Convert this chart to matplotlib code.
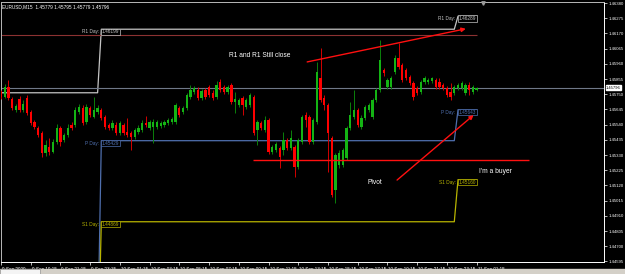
import numpy as np
import matplotlib
matplotlib.use("Agg")
import matplotlib.pyplot as plt
import matplotlib.transforms as mtransforms
from matplotlib.patches import Rectangle

plt.rcParams['font.family'] = ['Liberation Sans', 'DejaVu Sans']

# === EURUSD M15 candles, prices in points (1 point = 0.00001) ===
opens = [
    145765, 145731, 145800, 145717, 145641, 145717, 145641, 145724, 145627, 145558,
    145516, 145482, 145344, 145385, 145351, 145420, 145516, 145434, 145468, 145537,
    145537, 145627, 145655, 145558, 145655, 145593, 145627, 145641, 145593, 145537,
    145516, 145537, 145482, 145537, 145489, 145482, 145454, 145489, 145503, 145551,
    145516, 145523, 145523, 145530, 145537, 145551, 145558, 145558, 145655, 145627,
    145655, 145731, 145765, 145779, 145724, 145779, 145800, 145758, 145731, 145834,
    145800, 145765, 145814, 145696, 145675, 145724, 145662, 145675, 145731, 145503,
    145551, 145503, 145572, 145351, 145365, 145378, 145365, 145434, 145378, 145385,
    145247, 145420, 145606, 145593, 145420, 145558, 145862, 145724, 145675, 145447,
    145088, 145261, 145261, 145309, 145516, 145593, 145641, 145523, 145586, 145641,
    145593, 145710, 145779, 145917, 145800, 145800, 145904, 146000, 145952, 145917,
    145869, 145827, 145793, 145765, 145834, 145834, 145841, 145848, 145834, 145814,
    145793, 145765, 145758, 145793, 145793, 145758, 145814, 145765, 145779,
]
closes = [
    145731, 145800, 145724, 145655, 145669, 145641, 145682, 145620, 145551, 145523,
    145468, 145344, 145399, 145351, 145420, 145516, 145420, 145468, 145516, 145516,
    145641, 145662, 145551, 145662, 145606, 145641, 145655, 145586, 145523, 145516,
    145551, 145482, 145551, 145482, 145468, 145454, 145503, 145516, 145551, 145537,
    145558, 145558, 145558, 145551, 145558, 145572, 145579, 145675, 145606, 145655,
    145745, 145779, 145793, 145724, 145772, 145731, 145745, 145724, 145814, 145779,
    145765, 145800, 145696, 145717, 145710, 145675, 145710, 145745, 145482, 145558,
    145516, 145572, 145351, 145385, 145406, 145316, 145434, 145378, 145447, 145247,
    145434, 145593, 145572, 145420, 145572, 145904, 145710, 145675, 145482, 145054,
    145330, 145344, 145365, 145516, 145606, 145641, 145537, 145586, 145662, 145675,
    145710, 145779, 145986, 145897, 145848, 145862, 146000, 145938, 145848, 145862,
    145827, 145731, 145758, 145834, 145862, 145848, 145862, 145800, 145800, 145793,
    145745, 145731, 145800, 145814, 145827, 145814, 145779, 145800, 145796,
]
highs = [
    145779, 145821, 145848, 145731, 145682, 145738, 145710, 145745, 145641, 145572,
    145530, 145496, 145434, 145447, 145440, 145544, 145530, 145482, 145544, 145558,
    145662, 145682, 145675, 145682, 145669, 145731, 145675, 145655, 145606, 145551,
    145572, 145558, 145565, 145551, 145586, 145496, 145516, 145537, 145572, 145599,
    145572, 145579, 145572, 145565, 145572, 145586, 145593, 145689, 145669, 145669,
    145758, 145814, 145807, 145800, 145786, 145793, 145814, 145779, 145841, 145855,
    145814, 145814, 145827, 145765, 145724, 145738, 145724, 145758, 145745, 145572,
    145565, 145599, 145586, 145399, 145420, 145392, 145489, 145447, 145503, 145399,
    145447, 145606, 145627, 145606, 145586, 145973, 146069, 145745, 145689, 145461,
    145344, 145365, 145378, 145530, 145696, 145779, 145655, 145606, 145675, 145689,
    145724, 145793, 146125, 145931, 145862, 145876, 146021, 146104, 145966, 145931,
    145883, 145841, 145807, 145848, 145876, 145862, 145869, 145862, 145862, 145827,
    145807, 145827, 145814, 145827, 145841, 145827, 145834, 145814, 145800,
]
lows = [
    145717, 145724, 145710, 145641, 145627, 145627, 145627, 145606, 145537, 145510,
    145454, 145316, 145323, 145330, 145344, 145406, 145392, 145420, 145454, 145503,
    145523, 145613, 145537, 145544, 145593, 145586, 145613, 145572, 145510, 145503,
    145503, 145468, 145468, 145468, 145454, 145365, 145440, 145475, 145489, 145523,
    145503, 145413, 145510, 145516, 145523, 145537, 145544, 145544, 145593, 145613,
    145641, 145717, 145751, 145710, 145710, 145717, 145731, 145710, 145717, 145765,
    145751, 145751, 145682, 145620, 145662, 145606, 145648, 145662, 145468, 145399,
    145503, 145489, 145337, 145337, 145351, 145240, 145330, 145365, 145365, 145178,
    145233, 145406, 145523, 145406, 145406, 145544, 145696, 145641, 145213, 145040,
    144998, 145240, 145247, 145295, 145503, 145579, 145523, 145510, 145572, 145627,
    145579, 145696, 145765, 145876, 145786, 145786, 145890, 145924, 145834, 145848,
    145814, 145710, 145745, 145751, 145821, 145821, 145827, 145786, 145786, 145779,
    145731, 145710, 145745, 145779, 145779, 145745, 145745, 145751, 145772,
]

# === Daily pivot levels (day start bar index) ===
day_start = [0, 27, 123]
r1_levels = [1.45760, 1.46199, 1.46289]
p_levels = [1.44000, 1.45429, 1.45643]
s1_levels = [1.43800, 1.44869, 1.45160]
r1_text = ["", "1.46199", "1.46289"]
p_text = ["", "1.45429", "1.45643"]
s1_text = ["", "1.44869", "1.45160"]

upper_level = 1.46159   # dark red horizontal line
bid = 1.45796

# === Hand drawn objects (bar index, price) ===
arrow_r1 = [(82.4, 1.45973), (125.1, 1.46202)]
arrow_buy = [(106.6, 1.45157), (127.2, 1.45606)]
pivot_line = [(67.7, 142.1), 1.45293]
notes = [
    ("R1 and R1 Still close", 69.7, 1.46014),
    ("Pivot", 100.5, 1.45143),
    ("I'm a buyer", 133.0, 1.45213),
]

# === Axis ticks ===
ytick_vals = [1.46380, 1.46275, 1.46170, 1.46065, 1.45960, 1.45855, 1.45750,
              1.45645, 1.45540, 1.45435, 1.45330, 1.45225, 1.45120, 1.45015,
              1.44910, 1.44805, 1.44700, 1.44595]
xtick_pos = [0, 8, 16, 24, 32, 40, 48, 56, 64, 72, 80, 88, 96, 104, 112, 120, 128]
xtick_lbl = ["9 Sep 2009", "9 Sep 19:15", "9 Sep 21:15", "9 Sep 23:15",
             "10 Sep 01:15", "10 Sep 03:15", "10 Sep 05:15", "10 Sep 07:15",
             "10 Sep 09:15", "10 Sep 11:15", "10 Sep 13:15", "10 Sep 15:15",
             "10 Sep 17:15", "10 Sep 19:15", "10 Sep 21:15", "10 Sep 23:15",
             "11 Sep 01:15"]

o = np.array(opens) / 1e5
c = np.array(closes) / 1e5
h = np.array(highs) / 1e5
l = np.array(lows) / 1e5
x = np.arange(len(c))
n = len(c)

fig = plt.figure(figsize=(6.25, 2.74), dpi=100, facecolor='black')
ax = fig.add_axes([1 / 625, 12 / 274, 603 / 625, 260 / 274], facecolor='black')

# === Candles ===
up = c >= o
body_col = np.where(up, '#14b414', '#ff0000')
wick_col = np.where(up, '#0b800b', '#d40000')
ax.vlines(x, l, h, colors=wick_col, linewidth=0.7, zorder=3)
body_h = np.maximum(np.abs(c - o), 0.00003)
ax.bar(x, body_h, bottom=np.minimum(o, c), width=0.62, color=body_col,
       linewidth=0, zorder=4)

# === Pivot indicator lines ===
lengths = np.diff(day_start + [n])
pivot_cfg = [
    (r1_levels, r1_text, "R1 Day:", '#c4c4c4'),
    (p_levels, p_text, "P Day:", '#4f6fae'),
    (s1_levels, s1_text, "S1 Day:", '#b8b400'),
]
for levels, texts, name, col in pivot_cfg:
    ax.plot(x, np.repeat(levels, lengths), color=col, linewidth=0.9, zorder=2)
    for k in range(1, len(day_start)):
        ax.text(day_start[k] - 0.3, levels[k], name + " ", color=col,
                fontsize=3.4, ha='right', va='top', zorder=5)
        ax.text(day_start[k] + 0.2, levels[k], texts[k], color=col,
                fontsize=3.4, ha='left', va='top', zorder=5,
                bbox=dict(boxstyle='square,pad=0.15', fc='black', ec=col, lw=0.5))

ax.hlines(upper_level, 0, n - 1, color='#8c3232', linewidth=0.8, zorder=2)
ax.axhline(bid, color='#6f7888', linewidth=0.8, zorder=2)

# === Trend lines and notes ===
for start, end in [arrow_r1, arrow_buy]:
    ax.annotate('', xy=end, xytext=start, zorder=6,
                arrowprops=dict(arrowstyle='-|>', color='#ff1010', lw=1.0,
                                mutation_scale=6, shrinkA=0, shrinkB=0))
ax.hlines(pivot_line[1], pivot_line[0][0], pivot_line[0][1], color='#ff1010',
          linewidth=1.0, zorder=6)
for txt, tx, ty in notes:
    ax.text(tx, ty, txt, color='white', fontsize=4.8, ha='center',
            va='center', zorder=7)

# chart shift marker
ax.plot(129.8, 1.46382, marker='v', markersize=2.5, color='#9a9a9a',
        clip_on=False, zorder=7)

ax.text(0.002, 0.992, "EURUSD,M15  1.45779 1.45795 1.45779 1.45796",
        transform=ax.transAxes, color='white', fontsize=3.4, va='top', ha='left')

# === Axes ===
ax.set_xlim(0.19, 162.29)
ax.set_ylim(1.44591, 1.46387)
ax.yaxis.tick_right()
ax.set_yticks(ytick_vals)
ax.set_yticklabels(["%.5f" % v for v in ytick_vals])
ax.set_xticks(xtick_pos)
ax.set_xticklabels(xtick_lbl, ha='left')
ax.tick_params(axis='y', colors='white', labelsize=3.1, length=2, width=0.5, pad=1.2)
ax.tick_params(axis='x', colors='white', labelsize=3.3, length=2.5, width=0.5, pad=0.8)
for lbl in ax.get_xticklabels():
    lbl.set_transform(lbl.get_transform() +
                      mtransforms.ScaledTranslation(1 / 100, 0, fig.dpi_scale_trans))
for side in ['top', 'left']:
    ax.spines[side].set_color('#b8b8b8')
for side in ['right', 'bottom']:
    ax.spines[side].set_color('white')
for sp in ax.spines.values():
    sp.set_linewidth(0.7)

# bid price box on the price scale
trans = mtransforms.blended_transform_factory(ax.transAxes, ax.transData)
ax.text(1.003, bid, "%.5f" % bid, transform=trans, color='black', fontsize=3.0,
        ha='left', va='center', clip_on=False, zorder=8,
        bbox=dict(boxstyle='square,pad=0.05', fc='white', ec='white'))

# status strip at the bottom
fig.patches.append(Rectangle((0, 0), 1, 5 / 274, transform=fig.transFigure,
                             color='#d4d0c8', zorder=0))
fig.patches.append(Rectangle((0, 0), 40 / 625, 5 / 274, transform=fig.transFigure,
                             fc='#f4f4f4', ec='#808080', lw=0.4, zorder=1))

fig.savefig('out.png', dpi=100, facecolor='black')
